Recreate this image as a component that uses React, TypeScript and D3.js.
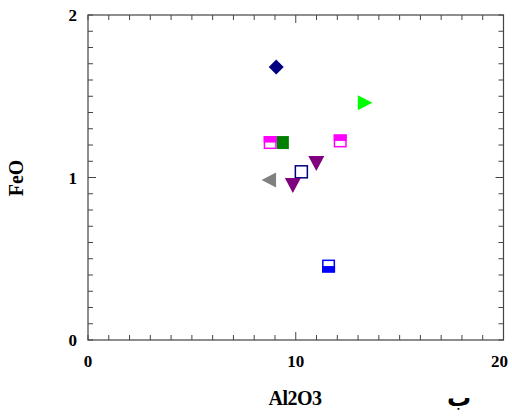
import React from "react"
import * as d3 from "d3"

// chart values
const al2o3 = [9.06, 13.3, 8.77, 9.38, 12.14, 10.99, 10.27, 8.74, 9.86, 11.58]
const feo = [1.68, 1.46, 1.215, 1.215, 1.225, 1.09, 1.035, 0.985, 0.954, 0.455]
const shapes = ["diamond", "right", "halfTop", "square", "halfTop", "down", "open", "left", "down", "halfBottom"]
const colors = ["#000080", "#00ff00", "#ff00ff", "#008000", "#ff00ff", "#800080", "#000080", "#808080", "#800080", "#0000ff"]

const xTicks = [0, 10, 20]
const yTicks = [0, 1, 2]

const W = 512
const H = 417
const left = 88
const right = 503.5
const top = 15
const bottom = 340

const font = "'Liberation Serif', 'Times New Roman', serif"

function Marker({ shape, color, cx, cy }: { shape: string; color: string; cx: number; cy: number }) {
    const s = 6.5
    if (shape === "diamond") {
        return <path d={`M${cx},${cy - 7.5}L${cx + 7.5},${cy}L${cx},${cy + 7.5}L${cx - 7.5},${cy}Z`} fill={color} />
    }
    if (shape === "right") {
        return <path d={`M${cx - 6.5},${cy - 7.5}L${cx + 8},${cy}L${cx - 6.5},${cy + 7.5}Z`} fill={color} />
    }
    if (shape === "left") {
        return <path d={`M${cx + 6.5},${cy - 7.5}L${cx - 8},${cy}L${cx + 6.5},${cy + 7.5}Z`} fill={color} />
    }
    if (shape === "down") {
        return <path d={`M${cx - 8},${cy - 7}L${cx + 8},${cy - 7}L${cx},${cy + 8}Z`} fill={color} />
    }
    if (shape === "square") {
        return <rect x={cx - 6} y={cy - 6.5} width={12} height={13} fill={color} />
    }
    if (shape === "open") {
        return <rect x={cx - 6} y={cy - 6} width={12} height={12} fill="white" stroke={color} strokeWidth={1.5} />
    }
    // half filled squares
    const filledTop = shape === "halfTop"
    return (
        <g>
            <rect x={cx - s + 0.75} y={cy - s + 0.75} width={2 * s - 1.5} height={2 * s - 1.5} fill="white" stroke={color} strokeWidth={1.5} />
            <rect x={cx - s} y={filledTop ? cy - s : cy} width={2 * s} height={s} fill={color} />
        </g>
    )
}

export default function App() {
    const x = d3.scaleLinear().domain([0, 20]).range([left, right])
    const y = d3.scaleLinear().domain([0, 2]).range([bottom, top])

    const xMinor = d3.range(0, 21, 1)
    const yMinor = d3.range(0, 2.001, 0.1)

    const axisColor = "#444"

    return (
        <svg width={W} height={H} style={{ position: "absolute", left: 0, top: 0, background: "white" }}>
            <rect x={left} y={top} width={right - left} height={bottom - top} fill="none" stroke={axisColor} strokeWidth={1.2} />
            {xMinor.map((v, i) => {
                const len = v === 10 ? 8 : 5
                return (
                    <g key={"xt" + i} stroke={axisColor} strokeWidth={1}>
                        <line x1={x(v)} x2={x(v)} y1={bottom} y2={bottom - len} />
                        <line x1={x(v)} x2={x(v)} y1={top} y2={top + len} />
                    </g>
                )
            })}
            {yMinor.map((v, i) => {
                const len = Math.abs(v - 1) < 1e-6 ? 8 : 5
                return (
                    <g key={"yt" + i} stroke={axisColor} strokeWidth={1}>
                        <line x1={left} x2={left + len} y1={y(v)} y2={y(v)} />
                        <line x1={right} x2={right - len} y1={y(v)} y2={y(v)} />
                    </g>
                )
            })}
            {xTicks.map(v => (
                <text key={"xl" + v} x={v === 20 ? x(v) - 4 : x(v)} y={367} textAnchor="middle" fontFamily={font} fontWeight="bold" fontSize={17}>
                    {v}
                </text>
            ))}
            {yTicks.map(v => (
                <text key={"yl" + v} x={77} y={y(v) + 6} textAnchor="end" fontFamily={font} fontWeight="bold" fontSize={17}>
                    {v}
                </text>
            ))}
            <text x={295} y={405} textAnchor="middle" fontFamily={font} fontWeight="bold" fontSize={20} letterSpacing={-0.5}>
                Al2O3
            </text>
            <text transform={`translate(23,178) rotate(-90)`} textAnchor="middle" fontFamily={font} fontWeight="bold" fontSize={20}>
                FeO
            </text>
            <text x={459} y={406} textAnchor="middle" fontFamily="'DejaVu Sans', sans-serif" fontWeight="bold" fontSize={24}>
                ب
            </text>
            {al2o3.map((v, i) => (
                <Marker key={"m" + i} shape={shapes[i]} color={colors[i]} cx={x(v)} cy={y(feo[i])} />
            ))}
        </svg>
    )
}
